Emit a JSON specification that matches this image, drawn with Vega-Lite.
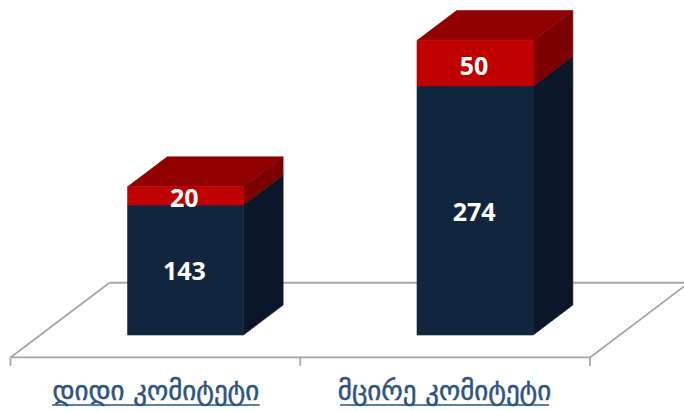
{
 "$schema":"https://vega.github.io/schema/vega-lite/v6.json",
 "width":684,"height":411,"padding":0,
 "autosize":{"type":"fit","contains":"padding"},
 "background":"white",
 "config":{"view":{"stroke":null}},
 "datasets":{
  "floor":[
   {"seg":"front","x":0,"y":-24.7},{"seg":"front","x":2,"y":-24.7},
   {"seg":"back","x":0.3416,"y":57.5},{"seg":"back","x":2.3245,"y":57.5},
   {"seg":"left","x":0,"y":-24.7},{"seg":"left","x":0.3416,"y":57.5},
   {"seg":"right","x":2,"y":-24.7},{"seg":"right","x":2.3245,"y":53.5},
   {"seg":"t0","x":0,"y":-24.7},{"seg":"t0","x":0,"y":-34},
   {"seg":"t1","x":1,"y":-24.7},{"seg":"t1","x":1,"y":-34},
   {"seg":"t2","x":2,"y":-24.7},{"seg":"t2","x":2,"y":-34}
  ],
  "faces":[
   {"id":"A-navy-side","face":"navy side","x":0.804,"y":0,"y2":143},
   {"id":"A-navy-side","face":"navy side","x":0.941,"y":33,"y2":176},
   {"id":"A-red-side","face":"red side","x":0.804,"y":143,"y2":163},
   {"id":"A-red-side","face":"red side","x":0.941,"y":176,"y2":196},
   {"id":"A-red-top","face":"red top","x":0.404,"y":163,"y2":163},
   {"id":"A-red-top","face":"red top","x":0.541,"y":196,"y2":163},
   {"id":"A-red-top","face":"red top","x":0.804,"y":196,"y2":163},
   {"id":"A-red-top","face":"red top","x":0.941,"y":196,"y2":196},
   {"id":"B-navy-side","face":"navy side","x":1.804,"y":0,"y2":274},
   {"id":"B-navy-side","face":"navy side","x":1.941,"y":33,"y2":307},
   {"id":"B-red-side","face":"red side","x":1.804,"y":274,"y2":324},
   {"id":"B-red-side","face":"red side","x":1.941,"y":307,"y2":357},
   {"id":"B-red-top","face":"red top","x":1.403,"y":324,"y2":324},
   {"id":"B-red-top","face":"red top","x":1.54,"y":357,"y2":324},
   {"id":"B-red-top","face":"red top","x":1.804,"y":357,"y2":324},
   {"id":"B-red-top","face":"red top","x":1.941,"y":357,"y2":357}
  ],
  "bars":[
   {"category":"დიდი კომიტეტი","series":"navy front","value":143,"x":0.404,"x2":0.804,"y":0,"y2":143,"cx":0.6,"mid":70.5},
   {"category":"დიდი კომიტეტი","series":"red front","value":20,"x":0.404,"x2":0.804,"y":143,"y2":163,"cx":0.6,"mid":151},
   {"category":"მცირე კომიტეტი","series":"navy front","value":274,"x":1.403,"x2":1.804,"y":0,"y2":274,"cx":1.6,"mid":136},
   {"category":"მცირე კომიტეტი","series":"red front","value":50,"x":1.403,"x2":1.804,"y":274,"y2":324,"cx":1.6,"mid":296}
  ],
  "cats":[
   {"category":"დიდი კომიტეტი","x":0.1432,"x2":0.8602,"cx":0.5017,"y":-63,"u":-77},
   {"category":"მცირე კომიტეტი","x":1.1373,"x2":1.8586,"cx":1.498,"y":-63,"u":-77}
  ]
 },
 "encoding":{
  "x":{"field":"x","type":"quantitative","axis":null,"scale":{"domain":[-0.03624,2.3245],"nice":false,"zero":false}},
  "y":{"field":"y","type":"quantitative","axis":null,"stack":null,"scale":{"domain":[-83.6,368.5],"nice":false,"zero":false}}
 },
 "layer":[
  {"data":{"name":"floor"},"mark":{"type":"line","color":"#A6A6A6","strokeWidth":1.8,"clip":true},
   "encoding":{"detail":{"field":"seg"},"order":{"field":"x"}}},
  {"data":{"name":"faces"},"mark":{"type":"area","orient":"vertical","line":false,"opacity":1,"strokeWidth":0.6},
   "encoding":{"y2":{"field":"y2"},"detail":{"field":"id"},
    "color":{"field":"face","type":"nominal","legend":null,
     "scale":{"domain":["navy side","red side","red top","navy front","red front"],"range":["#0B1729","#7C0000","#900000","#12253F","#C00000"]}},
    "stroke":{"field":"face","type":"nominal","legend":null,
     "scale":{"domain":["navy side","red side","red top","navy front","red front"],"range":["#0B1729","#7C0000","#900000","#12253F","#C00000"]}}}},
  {"data":{"name":"bars"},"mark":{"type":"rect","strokeWidth":0.6},
   "encoding":{"x2":{"field":"x2"},"y2":{"field":"y2"},
    "color":{"field":"series","type":"nominal","legend":null},
    "stroke":{"field":"series","type":"nominal","legend":null}}},
  {"data":{"name":"bars"},"mark":{"type":"text","color":"white","font":"Open Sans","fontWeight":"bold","fontSize":25,"baseline":"middle","align":"center","dy":1.5},
   "encoding":{"x":{"field":"cx","type":"quantitative"},"y":{"field":"mid","type":"quantitative"},"text":{"field":"value","type":"quantitative"}}},
  {"data":{"name":"cats"},"mark":{"type":"text","color":"#2F5480","stroke":"#2F5480","strokeWidth":0.5,"font":"DejaVu Sans","fontSize":27,"baseline":"middle","align":"center"},
   "encoding":{"x":{"field":"cx","type":"quantitative"},"text":{"field":"category","type":"nominal"}}},
  {"data":{"name":"cats"},"mark":{"type":"rule","color":"#2F5480","strokeWidth":1.5},
   "encoding":{"x2":{"field":"x2"},"y":{"field":"u","type":"quantitative"}}}
 ]
}
